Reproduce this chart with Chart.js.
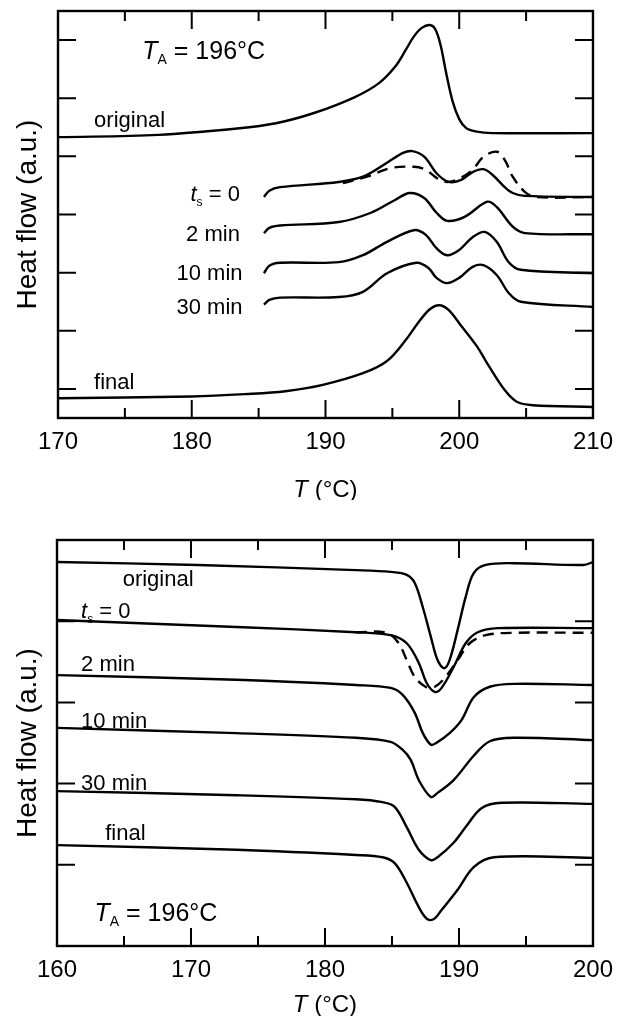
<!DOCTYPE html>
<html>
<head>
<meta charset="utf-8">
<title>Heat flow vs T</title>
<script src="https://cdn.jsdelivr.net/npm/chart.js@4.4.1/dist/chart.umd.min.js"></script>
<style>
    html, body { margin: 0; padding: 0; background: #fff; }
    #wrap { position: relative; width: 623px; height: 1016px; overflow: hidden; }
    #wrap canvas { position: absolute; left: 0; }
    #top-chart { top: 0; }
    #bottom-chart { top: 500px; }
</style>
</head>
<body>
<div id="wrap">
    <canvas id="top-chart" width="623" height="500"></canvas>
    <canvas id="bottom-chart" width="623" height="516"></canvas>
</div>
<script>
// ─── Top panel data (°C / heat flow, a.u.) ──────────────────────────────────

const TOP_X_TICKS = [170, 180, 190, 200, 210];
const TOP_Y_TICKS = [0.5, 1.5, 2.5, 3.5, 4.5, 5.5, 6.5];

const topOriginalT = [170, 177.5, 183.4, 186.3, 189.2, 192.2, 194.0, 195.2, 196.0, 196.6, 197.2, 197.8, 198.2, 198.6, 199.0, 199.5, 200.0, 200.5, 201.2, 202.5, 210];
const topOriginalHF = [4.83, 4.87, 4.98, 5.07, 5.25, 5.52, 5.76, 6.04, 6.33, 6.56, 6.71, 6.76, 6.69, 6.42, 5.96, 5.45, 5.14, 4.99, 4.93, 4.90, 4.90];

const topTs0T = [185.4, 185.8, 186.6, 191.0, 192.8, 194.6, 195.8, 196.5, 197.4, 198.3, 199.2, 200.1, 201.0, 201.8, 202.5, 203.4, 204.0, 204.9, 210];
const topTs0HF = [3.80, 3.91, 3.97, 4.06, 4.15, 4.39, 4.56, 4.59, 4.49, 4.21, 4.06, 4.09, 4.23, 4.28, 4.18, 3.97, 3.87, 3.82, 3.80];

const topTs0DashT = [191.3, 193.1, 194.9, 196.6, 197.5, 198.3, 199.1, 200.1, 201.0, 201.8, 202.8, 203.4, 204.0, 204.9, 205.8, 210];
const topTs0DashHF = [4.04, 4.15, 4.30, 4.32, 4.27, 4.13, 4.06, 4.13, 4.27, 4.49, 4.58, 4.44, 4.15, 3.89, 3.80, 3.80];

const top2minT = [185.4, 185.8, 186.6, 191.0, 193.4, 195.2, 196.3, 197.4, 198.3, 199.1, 200.4, 202.1, 202.8, 204.0, 204.9, 210];
const top2minHF = [3.18, 3.27, 3.31, 3.37, 3.53, 3.75, 3.87, 3.78, 3.53, 3.39, 3.46, 3.72, 3.63, 3.29, 3.18, 3.16];

const top10minT = [185.4, 185.8, 186.6, 191.0, 192.8, 194.6, 196.6, 197.5, 198.3, 199.1, 200.0, 201.0, 201.9, 202.8, 203.7, 204.6, 210];
const top10minHF = [2.49, 2.62, 2.67, 2.68, 2.80, 3.03, 3.23, 3.15, 2.92, 2.80, 2.89, 3.11, 3.20, 3.03, 2.68, 2.55, 2.49];

const top30minT = [185.4, 185.8, 186.6, 191.0, 192.8, 194.6, 196.8, 197.7, 198.3, 199.1, 200.0, 201.0, 201.8, 202.8, 203.7, 204.6, 210];
const top30minHF = [1.95, 2.03, 2.07, 2.08, 2.17, 2.49, 2.67, 2.58, 2.41, 2.32, 2.41, 2.60, 2.63, 2.46, 2.15, 2.00, 1.91];

const topFinalT = [170, 180.0, 184.0, 187.0, 189.8, 192.8, 194.6, 196.0, 196.9, 197.8, 198.5, 199.2, 200.1, 201.3, 202.2, 203.4, 204.3, 205.5, 210];
const topFinalHF = [0.34, 0.37, 0.41, 0.46, 0.57, 0.77, 0.98, 1.34, 1.63, 1.87, 1.94, 1.86, 1.60, 1.24, 0.90, 0.48, 0.28, 0.22, 0.19];

// ─── Bottom panel data ──────────────────────────────────────────────────────

const BOTTOM_X_TICKS = [160, 170, 180, 190, 200];
const BOTTOM_Y_TICKS = [1.4, 2.8, 4.2, 5.6];

const botOriginalT = [160, 170.5, 182.3, 184.9, 186.1, 186.7, 187.3, 187.9, 188.4, 188.9, 189.3, 189.9, 190.5, 191.1, 192.0, 194.1, 199.3, 200];
const botOriginalHF = [6.62, 6.57, 6.48, 6.45, 6.40, 6.26, 5.84, 5.33, 4.93, 4.79, 4.93, 5.45, 6.02, 6.43, 6.57, 6.60, 6.57, 6.62];

const botTs0T = [160, 173.4, 182.3, 184.9, 186.1, 187.0, 187.6, 188.2, 188.7, 189.6, 190.5, 191.4, 192.9, 200];
const botTs0HF = [5.62, 5.50, 5.41, 5.36, 5.22, 4.88, 4.53, 4.38, 4.45, 4.81, 5.22, 5.41, 5.48, 5.48];

const botTs0DashT = [182.3, 184.6, 185.5, 186.1, 186.7, 187.5, 188.2, 189.0, 189.9, 190.8, 192.0, 194.1, 200];
const botTs0DashHF = [5.41, 5.40, 5.22, 4.93, 4.64, 4.47, 4.47, 4.64, 4.93, 5.22, 5.36, 5.40, 5.40];

const bot2minT = [160, 173.4, 182.3, 184.9, 185.8, 186.7, 187.3, 187.9, 188.3, 189.3, 190.2, 191.1, 192.3, 194.1, 200];
const bot2minHF = [4.67, 4.59, 4.50, 4.45, 4.33, 4.02, 3.67, 3.47, 3.50, 3.67, 3.90, 4.29, 4.47, 4.52, 4.50];

const bot10minT = [160, 173.4, 182.3, 184.9, 185.8, 186.4, 187.0, 187.9, 188.4, 189.6, 191.1, 192.3, 194.1, 200];
const bot10minHF = [3.76, 3.67, 3.59, 3.52, 3.38, 3.21, 2.86, 2.57, 2.64, 2.86, 3.28, 3.53, 3.59, 3.55];

const bot30minT = [160, 173.4, 182.3, 184.3, 185.2, 186.1, 187.0, 187.9, 188.4, 189.6, 190.5, 191.7, 193.2, 200];
const bot30minHF = [2.67, 2.60, 2.53, 2.48, 2.40, 2.05, 1.66, 1.48, 1.53, 1.78, 2.05, 2.38, 2.47, 2.45];

const botFinalT = [160, 173.4, 182.3, 184.3, 185.2, 186.1, 187.0, 187.6, 188.1, 188.7, 189.9, 191.1, 192.6, 200];
const botFinalHF = [1.74, 1.66, 1.57, 1.53, 1.43, 1.09, 0.67, 0.47, 0.46, 0.62, 0.97, 1.36, 1.53, 1.52];

// ─── Text labels (anchored in data coordinates) ─────────────────────────────

const FONT = '"Liberation Sans", Arial, Helvetica, sans-serif';

const TA_TEXT = [{text: "T", italic: true}, {text: "A", sub: true}, {text: " = 196°C"}];
const TS0_TEXT = [{text: "t", italic: true}, {text: "s", sub: true}, {text: " = 0"}];
const X_TITLE = [{text: "T", italic: true}, {text: " (°C)"}];

const topLabels = [
    {parts: TA_TEXT, x: 176.3, y: 6.33, align: "left", size: 25},
    {parts: [{text: "original"}], x: 172.7, y: 5.14, align: "left", size: 22},
    {parts: TS0_TEXT, x: 183.6, y: 3.87, align: "right", size: 22},
    {parts: [{text: "2 min"}], x: 183.6, y: 3.18, align: "right", size: 22},
    {parts: [{text: "10 min"}], x: 183.8, y: 2.51, align: "right", size: 22},
    {parts: [{text: "30 min"}], x: 183.8, y: 1.93, align: "right", size: 22},
    {parts: [{text: "final"}], x: 172.7, y: 0.64, align: "left", size: 22},
];

const bottomLabels = [
    {parts: [{text: "original"}], x: 164.9, y: 6.34, align: "left", size: 22},
    {parts: TS0_TEXT, x: 161.8, y: 5.79, align: "left", size: 22},
    {parts: [{text: "2 min"}], x: 161.8, y: 4.88, align: "left", size: 22},
    {parts: [{text: "10 min"}], x: 161.8, y: 3.90, align: "left", size: 22},
    {parts: [{text: "30 min"}], x: 161.8, y: 2.83, align: "left", size: 22},
    {parts: [{text: "final"}], x: 163.6, y: 1.97, align: "left", size: 22},
    {parts: TA_TEXT, x: 162.8, y: 0.59, align: "left", size: 25},
];

// ─── Helpers ────────────────────────────────────────────────────────────────

function zipPoints(xs, ys) {
    return xs.map((x, i) => ({x, y: ys[i]}));
}

function curve(xs, ys, dashed = false) {
    return {
        data: zipPoints(xs, ys),
        borderColor: "#000",
        borderWidth: 2.4,
        borderDash: dashed ? [11, 7] : [],
        pointRadius: 0,
        fill: false,
        tension: 0.35,
    };
}

function partFont(part, size) {
    const px = part.sub ? Math.round(size * 0.55) : size;
    return `${part.italic ? "italic " : ""}${px}px ${FONT}`;
}

// Draws a run of text pieces (italic / subscript) starting at x, centred on y
function drawRich(ctx, parts, x, y, align, size) {
    let total = 0;
    for (const p of parts) {
        ctx.font = partFont(p, size);
        total += ctx.measureText(p.text).width;
    }
    let cx = x;
    if (align === "right") cx = x - total;
    else if (align === "center") cx = x - total / 2;

    const baseline = y + size * 0.36;
    ctx.save();
    ctx.fillStyle = "#000";
    ctx.textAlign = "left";
    ctx.textBaseline = "alphabetic";
    for (const p of parts) {
        ctx.font = partFont(p, size);
        ctx.fillText(p.text, cx, p.sub ? baseline + size * 0.22 : baseline);
        cx += ctx.measureText(p.text).width;
    }
    ctx.restore();
}

// Frame, inward tick marks, text labels and the x-axis title
const framePlugin = {
    id: "frame",
    afterDatasetsDraw(chart, args, opts) {
        const {ctx, chartArea: a, scales: {x, y}} = chart;
        ctx.save();
        ctx.strokeStyle = "#000";
        ctx.lineWidth = 2.4;
        ctx.strokeRect(a.left, a.top, a.right - a.left, a.bottom - a.top);

        ctx.lineWidth = 2;
        ctx.beginPath();
        for (let t = x.min + 5; t < x.max; t += 5) {
            const px = x.getPixelForValue(t);
            const len = t % 10 === 0 ? 18 : 10;
            ctx.moveTo(px, a.bottom);
            ctx.lineTo(px, a.bottom - len);
            ctx.moveTo(px, a.top);
            ctx.lineTo(px, a.top + len);
        }
        for (const v of opts.yTicks) {
            const py = y.getPixelForValue(v);
            ctx.moveTo(a.left, py);
            ctx.lineTo(a.left + 18, py);
            ctx.moveTo(a.right, py);
            ctx.lineTo(a.right - 18, py);
        }
        ctx.stroke();
        ctx.restore();

        for (const lab of opts.labels) {
            drawRich(ctx, lab.parts, x.getPixelForValue(lab.x), y.getPixelForValue(lab.y), lab.align, lab.size);
        }
        drawRich(ctx, X_TITLE, (a.left + a.right) / 2, a.bottom + opts.titleOffset, "center", 24);
    },
};

function buildChart(canvasId, cfg) {
    return new Chart(document.getElementById(canvasId), {
        type: "line",
        data: {datasets: cfg.datasets},
        options: {
            responsive: false,
            animation: false,
            events: [],
            layout: {padding: cfg.padding},
            plugins: {
                legend: {display: false},
                tooltip: {enabled: false},
                frame: {yTicks: cfg.yTicks, labels: cfg.labels, titleOffset: cfg.titleOffset},
            },
            scales: {
                x: {
                    type: "linear",
                    min: cfg.xTicks[0],
                    max: cfg.xTicks[cfg.xTicks.length - 1],
                    afterBuildTicks: (scale) => {
                        scale.ticks = cfg.xTicks.map((value) => ({value}));
                    },
                    afterFit: (scale) => {
                        scale.height = cfg.xHeight;
                    },
                    ticks: {color: "#000", font: {family: FONT, size: 24}, padding: 10, maxRotation: 0},
                    grid: {display: false, drawTicks: false},
                    border: {display: false},
                },
                y: {
                    min: 0,
                    max: 7,
                    afterFit: (scale) => {
                        scale.width = cfg.yWidth;
                    },
                    ticks: {display: false},
                    grid: {display: false, drawTicks: false},
                    border: {display: false},
                    title: {
                        display: true,
                        text: "Heat flow (a.u.)",
                        color: "#000",
                        font: {family: FONT, size: 28},
                        padding: {top: 11, bottom: 0},
                    },
                },
            },
        },
        plugins: [framePlugin],
    });
}

// ─── Entry point ────────────────────────────────────────────────────────────

buildChart("top-chart", {
    datasets: [
        curve(topOriginalT, topOriginalHF),
        curve(topTs0T, topTs0HF),
        curve(topTs0DashT, topTs0DashHF, true),
        curve(top2minT, top2minHF),
        curve(top10minT, top10minHF),
        curve(top30minT, top30minHF),
        curve(topFinalT, topFinalHF),
    ],
    xTicks: TOP_X_TICKS,
    yTicks: TOP_Y_TICKS,
    labels: topLabels,
    padding: {top: 11, right: 26, left: 0, bottom: 0},
    xHeight: 82,
    yWidth: 58,
    titleOffset: 70,
});

buildChart("bottom-chart", {
    datasets: [
        curve(botOriginalT, botOriginalHF),
        curve(botTs0T, botTs0HF),
        curve(botTs0DashT, botTs0DashHF, true),
        curve(bot2minT, bot2minHF),
        curve(bot10minT, bot10minHF),
        curve(bot30minT, bot30minHF),
        curve(botFinalT, botFinalHF),
    ],
    xTicks: BOTTOM_X_TICKS,
    yTicks: BOTTOM_Y_TICKS,
    labels: bottomLabels,
    padding: {top: 40, right: 27, left: 0, bottom: 0},
    xHeight: 70,
    yWidth: 57,
    titleOffset: 57,
});
</script>
</body>
</html>
